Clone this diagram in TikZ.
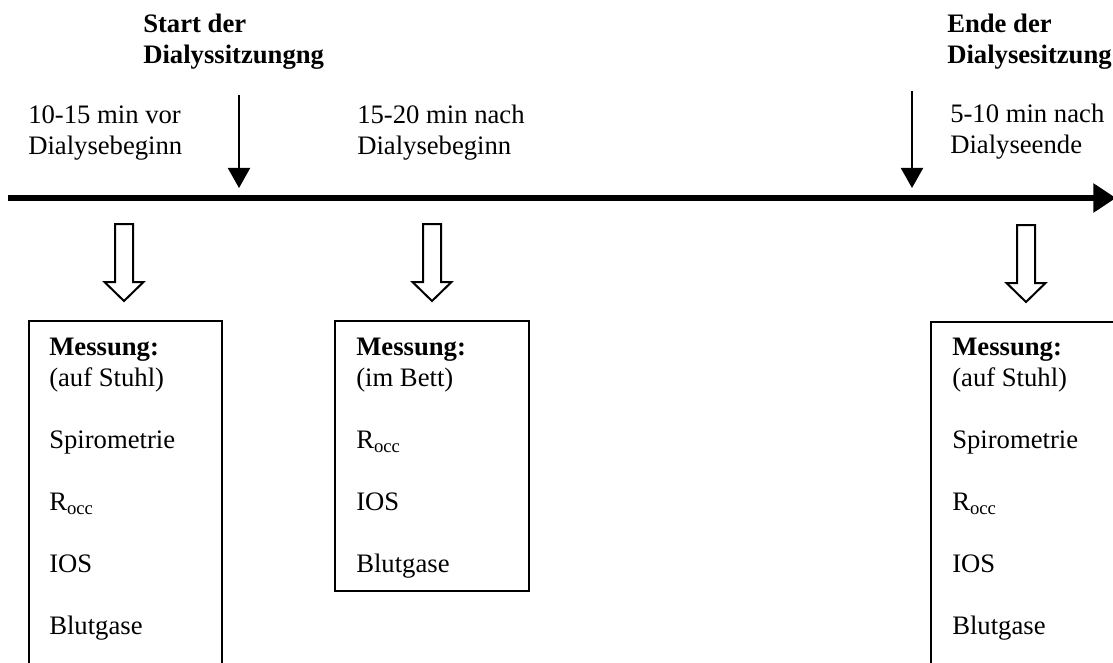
\documentclass[tikz,border=0pt]{standalone}
\usepackage{fontspec}
\setmainfont{Liberation Serif}
\usetikzlibrary{arrows.meta}
\tikzset{
  txt/.style={anchor=base west, inner sep=0pt, font=\fontsize{20pt}{23.25pt}\selectfont},
  btxt/.style={txt, font=\fontsize{20pt}{23.25pt}\selectfont\bfseries},
  mbox/.style={draw, line width=1.5pt, anchor=north west, inner sep=0pt},
  marker/.style={line width=1.5pt, -{Triangle[length=15pt,width=16.5pt]}},
  timeline/.style={line width=4.5pt, -{Triangle[length=17pt,width=21pt]}},
  hollow/.pic={\draw[line width=1.5pt, line join=miter] (-9,0) -- (-9,58) -- (-19.5,58) -- (0,77) -- (19.5,58) -- (9,58) -- (9,0) -- cycle;}
}
\begin{document}
\begin{tikzpicture}[x=0.75pt, y=-0.75pt]
\useasboundingbox (0,0) rectangle (1113,663);
\clip (0,0) rectangle (1113,663);

% timeline
\coordinate (tl0) at (8,198);
\coordinate (tl1) at (1116,198);
\draw[timeline] (tl0) -- (tl1);

% event markers
\coordinate (m1a) at (239,95);
\coordinate (m1b) at (239,188);
\coordinate (m2a) at (912,91);
\coordinate (m2b) at (912,188);
\draw[marker] (m1a) -- (m1b);
\draw[marker] (m2a) -- (m2b);

% headings
\node[btxt] (start1) at (143,33) {Start der};
\node[btxt] (start2) at (143,64) {Dialyssitzungng};
\node[btxt] (ende1) at (947,33) {Ende der};
\node[btxt] (ende2) at (947,64) {Dialysesitzung};

% time labels
\node[txt] (t1a) at (28,124) {10-15 min vor};
\node[txt] (t1b) at (28,155) {Dialysebeginn};
\node[txt] (t2a) at (357,124) {15-20 min nach};
\node[txt] (t2b) at (357,155) {Dialysebeginn};
\node[txt] (t3a) at (950,123) {5-10 min nach};
\node[txt] (t3b) at (950,154) {Dialyseende};

% hollow arrows
\pic (h1) at (124,224) {hollow};
\pic (h2) at (432,224) {hollow};
\pic (h3) at (1026,225) {hollow};

% boxes
\node[mbox, minimum width=144.75pt, minimum height=300pt] (box1) at (28,320) {};
\node[mbox, minimum width=145.5pt, minimum height=202.5pt] (box2) at (334,320) {};
\node[mbox, minimum width=150pt, minimum height=300pt] (box3) at (930,321) {};

% box 1 text
\node[btxt] (b1l1) at (49,355) {Messung:};
\node[txt] (b1l2) at (49,386) {(auf Stuhl)};
\node[txt] (b1l3) at (49,448) {Spirometrie};
\node[txt] (b1l4) at (49,510) {R\textsubscript{occ}};
\node[txt] (b1l5) at (49,572) {IOS};
\node[txt] (b1l6) at (49,634) {Blutgase};

% box 2 text
\node[btxt] (b2l1) at (356,355) {Messung:};
\node[txt] (b2l2) at (356,386) {(im Bett)};
\node[txt] (b2l3) at (356,448) {R\textsubscript{occ}};
\node[txt] (b2l4) at (356,510) {IOS};
\node[txt] (b2l5) at (356,572) {Blutgase};

% box 3 text
\node[btxt] (b3l1) at (952,355) {Messung:};
\node[txt] (b3l2) at (952,386) {(auf Stuhl)};
\node[txt] (b3l3) at (952,448) {Spirometrie};
\node[txt] (b3l4) at (952,510) {R\textsubscript{occ}};
\node[txt] (b3l5) at (952,572) {IOS};
\node[txt] (b3l6) at (952,634) {Blutgase};
\end{tikzpicture}
\end{document}
